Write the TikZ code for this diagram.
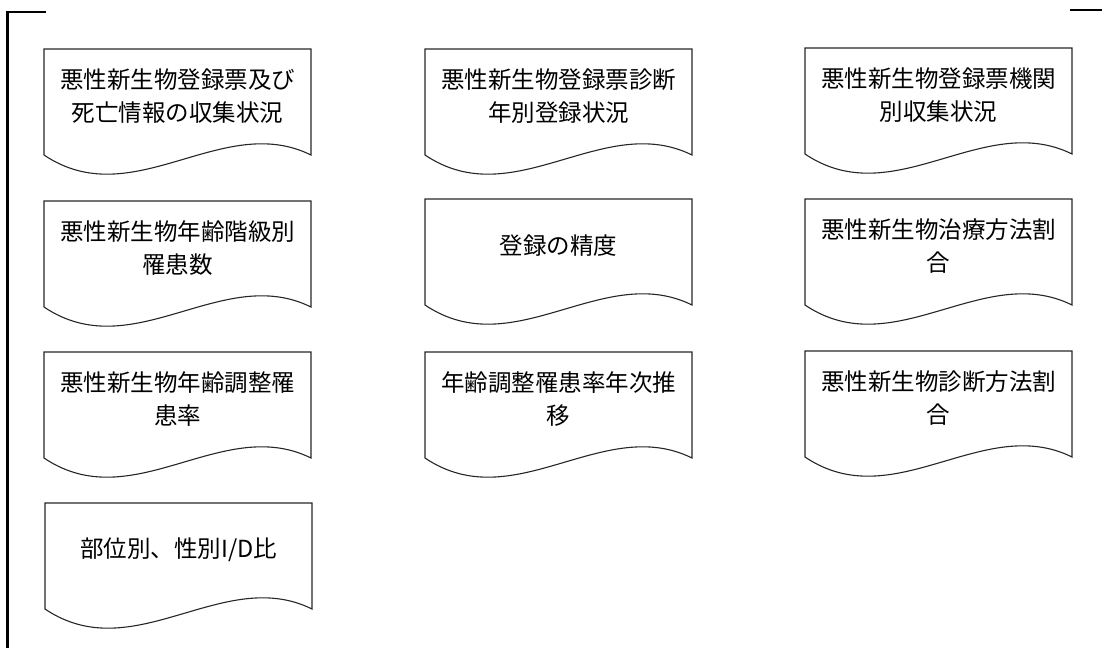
\documentclass[tikz,border=0pt]{standalone}
\usepackage{fontspec}
\newfontfamily\jp{Noto Sans CJK JP}
\tikzset{
  docline/.style={draw=black!85, line width=1.1pt},
  bracket/.style={draw=black, line width=2.2pt},
  lbl/.style={font=\jp\fontsize{23.5}{33}\selectfont, align=center, text=black, inner sep=0pt}
}
\newcommand\docbox[4]{%
  \begin{scope}[shift={(#2,#3)}]
    \draw[docline] (0,0) -- (267,0) -- (267,106)
      .. controls (178,62) and (89,166) .. (0,106) -- cycle;
    \node[lbl] (#1) at (133.5,47) {#4};
  \end{scope}}
\begin{document}
\begin{tikzpicture}[x=1pt,y=-1pt]
  \useasboundingbox (0,0) rectangle (1102,648);
  % bracket lines
  \coordinate (tl1) at (46,12);
  \coordinate (tl0) at (7.5,12);
  \coordinate (bl) at (7.5,648);
  \coordinate (tr0) at (1070,10);
  \coordinate (tr1) at (1102,10);
  \draw[bracket] (tl1) -- (tl0) -- (bl);
  \draw[bracket] (tr0) -- (tr1);
  % row 1
  \docbox{a1}{44}{49}{悪性新生物登録票及び\\死亡情報の収集状況}
  \docbox{a2}{425}{49}{悪性新生物登録票診断\\年別登録状況}
  \docbox{a3}{805}{48}{悪性新生物登録票機関\\別収集状況}
  % row 2
  \docbox{b1}{44}{201}{悪性新生物年齢階級別\\罹患数}
  \docbox{b2}{425}{199}{登録の精度}
  \docbox{b3}{805}{199}{悪性新生物治療方法割\\合}
  % row 3
  \docbox{c1}{44}{352}{悪性新生物年齢調整罹\\患率}
  \docbox{c2}{425}{352}{年齢調整罹患率年次推\\移}
  \docbox{c3}{805}{351}{悪性新生物診断方法割\\合}
  % row 4
  \docbox{d1}{45}{503}{部位別、性別I/D比}
\end{tikzpicture}
\end{document}
